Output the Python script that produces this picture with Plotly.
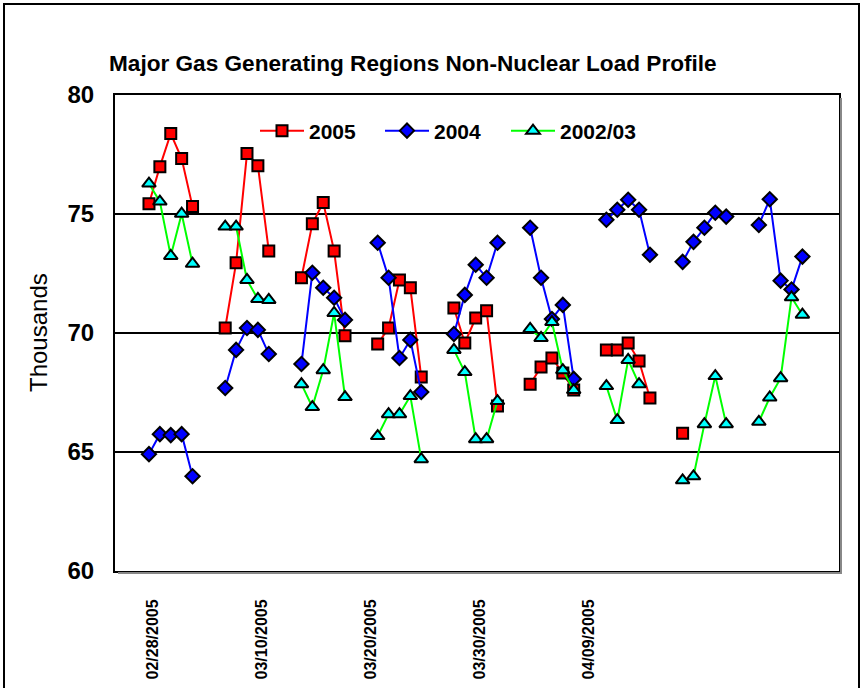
import datetime as dt
import plotly.graph_objects as go

# ---- data ----
weekdays = []
d = dt.date(2005, 2, 28)
while d <= dt.date(2005, 4, 29):
    if d.weekday() < 5:
        weekdays.append(d)
    d += dt.timedelta(days=1)

load_2005 = [75.43, 76.99, 78.38, 77.33, 75.31,
             70.21, 72.95, 77.54, 77.03, 73.45,
             72.32, 74.59, 75.48, 73.45, 69.88,
             69.54, 70.21, 72.23, 71.90, 68.15,
             71.05, 69.58, 70.63, 70.93, 66.93,
             67.85, 68.57, 68.95, 68.32, 67.60,
             69.29, 69.29, 69.58, 68.82, 67.27,
             65.79, None, None, None, None,
             None, None, None, None, None]

load_2004 = [64.91, 65.75, 65.71, 65.75, 63.98,
             67.69, 69.29, 70.21, 70.13, 69.12,
             68.70, 72.53, 71.90, 71.48, 70.55,
             73.79, 72.32, 68.95, 69.71, 67.52,
             69.96, 71.60, 72.87, 72.32, 73.79,
             74.42, 72.32, 70.59, 71.18, 68.07,
             74.76, 75.18, 75.60, 75.18, 73.29,
             72.99, 73.83, 74.42, 75.05, 74.89,
             74.54, 75.62, 72.20, 71.83, 73.21]

load_2002_03 = [76.28, 75.52, 73.24, 75.01, 72.91,
                74.47, 74.47, 72.23, 71.43, 71.39,
                67.85, 66.89, 68.44, 70.84, 67.31,
                65.67, 66.59, 66.59, 67.35, 64.70,
                69.29, 68.36, 65.54, 65.54, 67.14,
                70.17, 69.79, 70.46, 68.44, 67.60,
                67.77, 66.34, 68.87, 67.85, None,
                63.81, 63.98, 66.17, 68.19, 66.17,
                66.27, 67.29, 68.10, 71.50, 70.77]

tick_dates = ["2005-02-28", "2005-03-10", "2005-03-20", "2005-03-30", "2005-04-09"]
tick_labels = ["02/28/2005", "03/10/2005", "03/20/2005", "03/30/2005", "04/09/2005"]
y_ticks = [60, 65, 70, 75, 80]


def with_gaps(dates, vals):
    xs, ys = [], []
    for i, (dd, v) in enumerate(zip(dates, vals)):
        if i > 0 and (dd - dates[i - 1]).days > 1:
            xs.append(None)
            ys.append(None)
        xs.append(dd.isoformat())
        ys.append(v)
    return xs, ys


FONT = "Arial, Liberation Sans, sans-serif"
fig = go.Figure()

W, H = 862, 688
L, R, T, B = 115, 839, 95, 571
pw, ph = R - L, B - T


def px(x):
    return (x - L) / pw


def py(y):
    return (B - y) / ph


series = [
    ("2005", load_2005, "#FF0000", "square", "#FF0000", 11, "legend", 255),
    ("2004", load_2004, "#0000FF", "diamond", "#0000FF", 11, "legend2", 380),
    ("2002/03", load_2002_03, "#00FF00", "triangle-up", "#00FFFF", 12, "legend3", 506),
]
legend_layouts = {}
for name, vals, lc, sym, mc, sz, lg, lx in series:
    xs, ys = with_gaps(weekdays, vals)
    fig.add_trace(go.Scatter(
        x=xs, y=ys, name=name, mode="lines+markers",
        connectgaps=False, legend=lg,
        line=dict(color=lc, width=2),
        marker=dict(symbol=sym, size=sz, color=mc, line=dict(color="black", width=2)),
    ))
    legend_layouts[lg] = dict(
        orientation="h", x=px(lx), y=py(131), xanchor="left", yanchor="middle",
        font=dict(size=21, family=FONT, weight="bold"), bgcolor="rgba(0,0,0,0)",
        itemwidth=44, borderwidth=0,
    )

fig.update_layout(
    width=W, height=H,
    margin=dict(l=L, r=W - R, t=T, b=H - B, autoexpand=False),
    paper_bgcolor="white", plot_bgcolor="white",
    font=dict(family=FONT, color="black"),
    showlegend=True,
    **legend_layouts,
    xaxis=dict(
        type="date",
        range=["2005-02-24 21:07", "2005-05-02 08:38"],
        tickmode="array", tickvals=tick_dates, ticktext=tick_labels,
        tickangle=-90, tickfont=dict(size=16, family=FONT, weight="bold"),
        showgrid=False, zeroline=False, automargin=False,
        showline=True, linecolor="black", linewidth=2, mirror=True,
        ticks="", ticklabelstandoff=20, ticklabelshift=4,
    ),
    yaxis=dict(
        range=[60, 80], tickvals=y_ticks,
        tickfont=dict(size=24, family=FONT, weight="bold"),
        showgrid=True, gridcolor="black", gridwidth=2,
        zeroline=False, automargin=False,
        showline=True, linecolor="black", linewidth=2, mirror=True,
        ticks="", ticklabelstandoff=14,
    ),
    shapes=[
        dict(type="rect", xref="paper", yref="paper",
             x0=px(R + 1), x1=px(R + 3), y0=py(B + 3), y1=py(T + 3),
             fillcolor="#888888", line=dict(width=0)),
        dict(type="rect", xref="paper", yref="paper",
             x0=px(L + 3), x1=px(R + 3), y0=py(B + 3), y1=py(B + 1),
             fillcolor="#888888", line=dict(width=0)),
        dict(type="rect", xref="paper", yref="paper",
             x0=px(4), x1=px(859), y0=py(720), y1=py(4),
             line=dict(color="black", width=2), fillcolor="rgba(0,0,0,0)"),
    ],
    annotations=[
        dict(text="Major Gas Generating Regions Non-Nuclear Load Profile",
             xref="paper", yref="paper", x=px(107), y=py(63),
             xanchor="left", yanchor="middle", showarrow=False,
             font=dict(size=22.6, family=FONT, weight="bold")),
        dict(text="Thousands", xref="paper", yref="paper", x=px(38), y=py(333),
             xanchor="center", yanchor="middle", textangle=-90, showarrow=False,
             font=dict(size=24, family=FONT)),
    ],
)

fig.write_html("out.html", config={"displayModeBar": False},
               post_script="document.body.style.margin='0';document.body.style.overflow='hidden';")
